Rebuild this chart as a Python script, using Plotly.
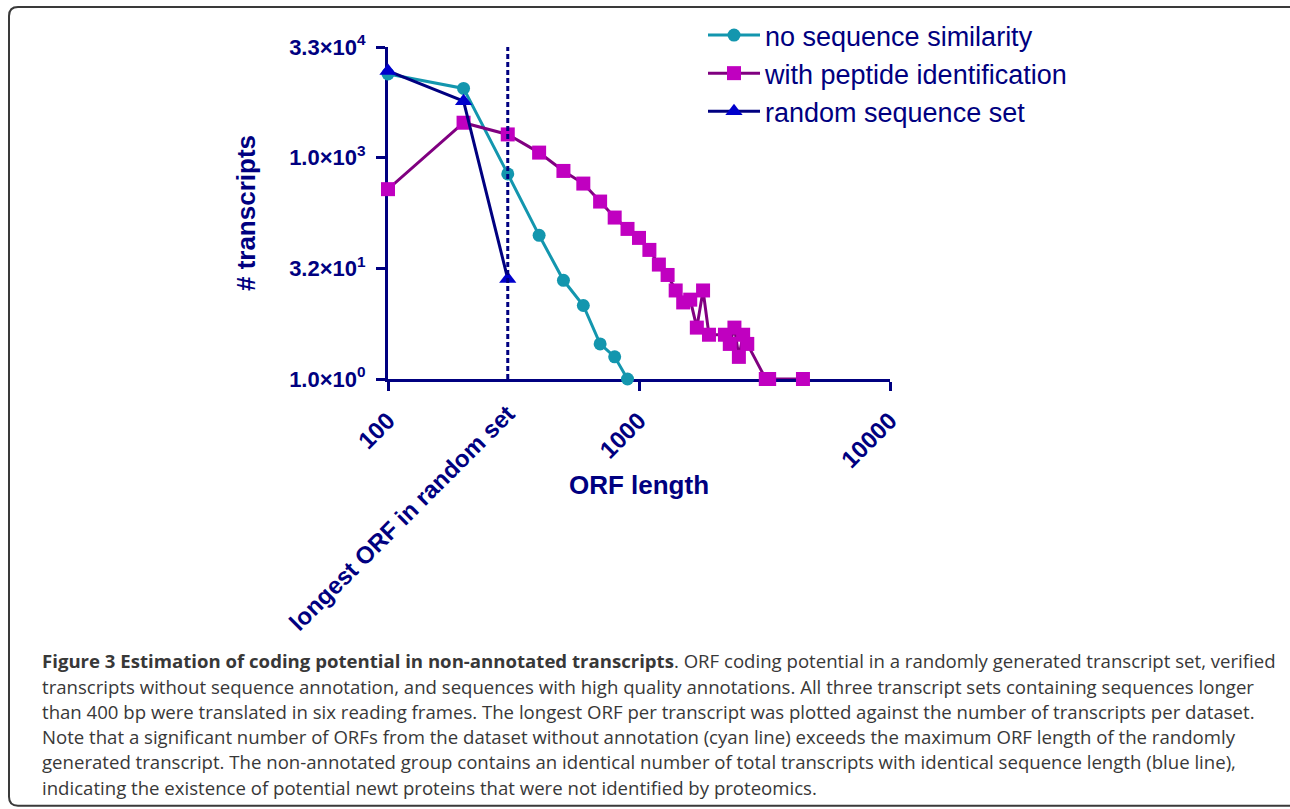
import plotly.graph_objects as go

# ---- data -------------------------------------------------------------
orf_no_sim = [100, 200, 300, 400, 500, 600, 700, 800, 900]
cnt_no_sim = [14100, 8960, 616, 90, 22, 10, 3, 2, 1]

orf_peptide = [100, 200, 300, 400, 500, 600, 700, 800, 900, 1000, 1100, 1200,
               1300, 1400, 1500, 1600, 1700, 1800, 1900, 2200, 2300, 2400,
               2500, 2600, 2700, 3200, 3300, 4500]
cnt_peptide = [382, 3060, 2120, 1200, 676, 455, 259, 157, 110, 83, 57, 36,
               26, 16, 11, 12, 5, 16, 4, 4, 3, 5,
               2, 4, 3, 1, 1, 1]

orf_random = [100, 200, 300]
cnt_random = [15500, 6000, 23]

longest_random_orf = 300

series_names = ["no sequence similarity", "with peptide identification",
                "random sequence set"]

x_tick_vals = [100, 1000, 10000]
x_tick_text = ["100", "1000", "10000"]
y_tick_vals = [1, 32, 1024, 32768]
y_tick_text = ["1.0\u00d710<sup>0</sup>", "3.2\u00d710<sup>1</sup>",
               "1.0\u00d710<sup>3</sup>", "3.3\u00d710<sup>4</sup>"]

caption_lines = [
    "<b>Figure 3 Estimation of coding potential in non-annotated transcripts</b>. "
    "ORF coding potential in a randomly generated transcript set, verified",
    "transcripts without sequence annotation, and sequences with high quality "
    "annotations. All three transcript sets containing sequences longer",
    "than 400 bp were translated in six reading frames. The longest ORF per "
    "transcript was plotted against the number of transcripts per dataset.",
    "Note that a significant number of ORFs from the dataset without annotation "
    "(cyan line) exceeds the maximum ORF length of the randomly",
    "generated transcript. The non-annotated group contains an identical number "
    "of total transcripts with identical sequence length (blue line),",
    "indicating the existence of potential newt proteins that were not "
    "identified by proteomics.",
]

# ---- styling ----------------------------------------------------------
W, H = 1290, 809
ML, MR, MT, MB = 388, 400, 46, 430
NAVY = "#000080"
TEAL = "#1396AE"
MAGENTA = "#C000C0"
PURPLE = "#800080"
BLUE = "#0000CC"
FONT = "Liberation Sans, Arial, sans-serif"

plot_w = W - ML - MR
plot_h = H - MT - MB


def px_x(px):
    return (px - ML) / plot_w


def px_y(py):
    return (H - MB - py) / plot_h


fig = go.Figure()

# dotted marker for the longest ORF found in the random set
fig.add_trace(go.Scatter(
    x=[longest_random_orf, longest_random_orf], y=[1, 32768],
    xaxis="x2", mode="lines", showlegend=False, hoverinfo="skip",
    line=dict(color=NAVY, width=3, dash="5px,3px"), cliponaxis=False,
))

fig.add_trace(go.Scatter(
    x=orf_no_sim, y=cnt_no_sim, name=series_names[0], mode="lines+markers",
    line=dict(color=TEAL, width=3),
    marker=dict(symbol="circle", size=13, color=TEAL),
    cliponaxis=False,
))
fig.add_trace(go.Scatter(
    x=orf_peptide, y=cnt_peptide, name=series_names[1], mode="lines+markers",
    line=dict(color=PURPLE, width=3),
    marker=dict(symbol="square", size=14, color=MAGENTA),
    cliponaxis=False,
))
fig.add_trace(go.Scatter(
    x=orf_random, y=cnt_random, name=series_names[2], mode="lines+markers",
    line=dict(color=NAVY, width=3),
    marker=dict(symbol="triangle-up", size=15, color=BLUE),
    cliponaxis=False,
))

y_tick_font = dict(family=FONT, size=22, color=NAVY, weight="bold")
x_tick_font = dict(family=FONT, size=24, color=NAVY, weight="bold")
title_font = dict(family=FONT, size=26, color=NAVY, weight="bold")

fig.update_layout(
    width=W, height=H,
    margin=dict(l=ML, r=MR, t=MT, b=MB, pad=0),
    paper_bgcolor="white", plot_bgcolor="white",
    showlegend=True,
    legend=dict(
        x=px_x(703), y=px_y(11), xanchor="left", yanchor="top",
        font=dict(family=FONT, size=27, color=NAVY),
        bgcolor="rgba(0,0,0,0)", itemwidth=52, tracegroupgap=0,
    ),
    xaxis=dict(
        type="log", range=[2, 4], showgrid=False, zeroline=False,
        showline=True, linecolor=NAVY, linewidth=3,
        ticks="outside", ticklen=9, tickwidth=3, tickcolor=NAVY,
        tickmode="array", tickvals=x_tick_vals, ticktext=x_tick_text,
        tickangle=-45, tickfont=x_tick_font, ticklabelstandoff=6,
        layer="below traces",
        title=dict(text="ORF length", font=title_font, standoff=4),
    ),
    xaxis2=dict(
        type="log", range=[2, 4], overlaying="x", anchor="y", side="bottom",
        showgrid=False, zeroline=False, showline=False, ticks="",
        tickmode="array", tickvals=[longest_random_orf],
        ticktext=["longest ORF in random set"],
        tickangle=-45, tickfont=x_tick_font, ticklabelstandoff=15,
        layer="below traces",
    ),
    yaxis=dict(
        type="log", range=[0, 4.5155], showgrid=False, zeroline=False,
        showline=True, linecolor=NAVY, linewidth=3,
        ticks="outside", ticklen=9, tickwidth=3, tickcolor=NAVY,
        tickmode="array", tickvals=y_tick_vals, ticktext=y_tick_text,
        tickfont=y_tick_font, ticklabelstandoff=6,
        layer="below traces",
        title=dict(text="# transcripts", font=title_font, standoff=27),
    ),
)

# caption below the chart
cap_y = [661, 687, 712, 738, 763, 789]
for text, py in zip(caption_lines, cap_y):
    fig.add_annotation(
        x=px_x(40), y=px_y(py), xref="paper", yref="paper",
        xanchor="left", yanchor="middle", showarrow=False, align="left",
        text=text, font=dict(family="Open Sans, sans-serif", size=18.6,
                             color="#383838"),
    )

# rounded frame around the figure
x0, y0, x1, y1, r = 9, 6, 1300, 807, 9
frame = (f"M {px_x(x1)},{px_y(y0)} L {px_x(x0 + r)},{px_y(y0)} "
         f"Q {px_x(x0)},{px_y(y0)} {px_x(x0)},{px_y(y0 + r)} "
         f"L {px_x(x0)},{px_y(y1 - r)} "
         f"Q {px_x(x0)},{px_y(y1)} {px_x(x0 + r)},{px_y(y1)} "
         f"L {px_x(x1)},{px_y(y1)}")
fig.add_shape(type="path", path=frame, xref="paper", yref="paper",
              line=dict(color="#3a3a3a", width=2))

fig.write_html("out.html")
